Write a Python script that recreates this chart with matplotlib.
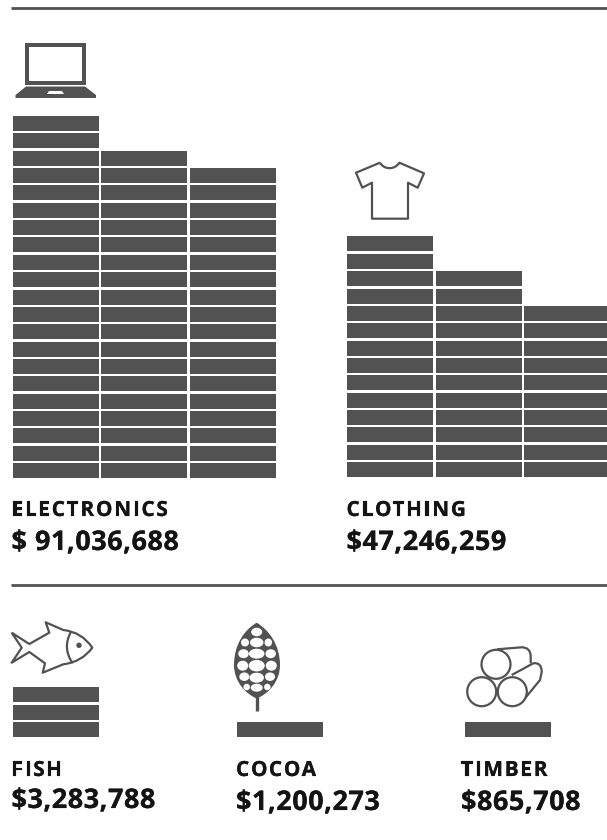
import matplotlib
matplotlib.use('Agg')
import matplotlib.pyplot as plt
import matplotlib.patheffects as pe
from matplotlib.font_manager import FontProperties
from matplotlib.patches import Rectangle, Circle, Ellipse, PathPatch, Polygon
from matplotlib.path import Path
from matplotlib.textpath import TextToPath

categories = ['ELECTRONICS', 'CLOTHING', 'FISH', 'COCOA', 'TIMBER']
values = ['$ 91,036,688', '$47,246,259', '$3,283,788', '$1,200,273', '$865,708']
# stacked rows per column, one list per category
stacks = [[21, 19, 18], [14, 12, 10], [3], [1], [1]]

DARK = '#525252'
TEXT = '#141414'

fig = plt.figure(figsize=(6.07, 8.40), dpi=100)
ax = fig.add_axes([0, 0, 1, 1])
ax.set_xlim(0, 607)
ax.set_ylim(840, 0)
ax.axis('off')

# layout in pixels
origins = [12.5, 347, 12.5, 237, 465]
bases = [478, 477, 737, 737, 737]
text_x = [11.5, 346.5, 11.5, 236, 461]
label_y = [516, 516, 776, 776, 776]
value_y = [550, 550, 808, 810, 810]
col_w, col_pitch = 86, 88.5
row_h, row_pitch = 15, 17.35

ax.plot([11, 607], [7.5, 7.5], color=DARK, lw=2, solid_capstyle='butt')
ax.plot([11, 607], [585, 585], color=DARK, lw=2, solid_capstyle='butt')

for stack, x0, base in zip(stacks, origins, bases):
    for c, n in enumerate(stack):
        for r in range(n):
            y = base - row_h - r * row_pitch
            ax.add_patch(Rectangle((x0 + c * col_pitch, y), col_w, row_h, fc=DARK, ec='none'))


def spaced_text(x, y, s, size, spacing):
    # matplotlib has no letter spacing, so place each glyph on its own
    prop = FontProperties(family='Open Sans', weight='bold', size=size)
    ttp = TextToPath()
    for i, ch in enumerate(s):
        w = ttp.get_text_width_height_descent(s[:i], prop, False)[0] if i else 0
        # text path widths are at 72 dpi, axes units are pixels at 100 dpi
        t = ax.text(x + w * 100 / 72 + i * spacing, y, ch, fontproperties=prop, color=TEXT, va='baseline', ha='left')
        # reference type is a bit heavier than Open Sans Bold
        t.set_path_effects([pe.withStroke(linewidth=0.12, foreground=TEXT)])


for name, val, x, ly, vy in zip(categories, values, text_x, label_y, value_y):
    spaced_text(x, ly, name, 15, 1.7)
    spaced_text(x, vy, val, 19.5, 0.5)

# laptop
ax.add_patch(Rectangle((25, 43), 61, 42, fc=DARK, ec='none'))
ax.add_patch(Rectangle((29, 47), 53, 34, fc='white', ec='none'))
ax.add_patch(Polygon([(26, 86.5), (85, 86.5), (96, 95), (96, 98), (15.5, 98), (15.5, 95)], fc=DARK, ec='none'))
ax.add_patch(Polygon([(49, 91), (62, 91), (64, 94), (47, 94)], fc='white', ec='none'))

# t-shirt
shirt = Path(
    [(380, 162.7), (384, 170), (395, 170), (399.3, 162.7), (424, 173.3), (417.7, 187.7), (408, 182.7),
     (408, 218.7), (372, 218.7), (372, 182.7), (362.3, 187.7), (356, 172.7), (380, 162.7)],
    [Path.MOVETO, Path.CURVE4, Path.CURVE4, Path.CURVE4] + [Path.LINETO] * 9)
ax.add_patch(PathPatch(shirt, fc='none', ec=DARK, lw=1.6, joinstyle='round'))

# fish
L, C = Path.LINETO, Path.CURVE3
fish = Path(
    [(11.7, 632.7), (29.3, 644), (49.3, 632.7), (45.7, 622.3), (63.3, 630), (82, 632), (92.3, 647.7),
     (82, 662), (63.3, 664.3), (42.7, 672.7), (45, 663.3), (29.3, 652), (11.7, 662.7), (21.7, 647.7), (11.7, 632.7)],
    [Path.MOVETO, L, L, L, L, C, C, C, C, L, L, L, L, L, L])
ax.add_patch(PathPatch(fish, fc='none', ec=DARK, lw=1.6, joinstyle='round'))
gill = Path([(71, 631.7), (62, 648), (72.7, 663.3)], [Path.MOVETO, C, C])
ax.add_patch(PathPatch(gill, fc='none', ec=DARK, lw=1.6))
ax.add_patch(Circle((79, 645.3), 2.7, fc=DARK, ec='none'))

# cocoa pod
pod = Path(
    [(256.7, 622.7), (244, 630), (234, 645), (234, 665),
     (234, 682), (246, 694), (256.7, 698.5),
     (268, 694), (280, 682), (280, 665),
     (280, 645), (269, 630), (256.7, 622.7)],
    [Path.MOVETO] + [Path.CURVE4] * 12)
ax.add_patch(PathPatch(pod, fc=DARK, ec='none'))
ax.plot([257, 257], [695, 711], color=DARK, lw=2.4, solid_capstyle='butt')
holes = [(256.7, 632, 11, 8.5), (245, 642.5, 8, 8), (256.7, 642.5, 13.5, 9.5), (268.3, 642.5, 7.5, 8),
         (243.5, 653.7, 10.5, 9), (256.7, 653.7, 15.5, 10), (270.7, 653.7, 10.5, 9),
         (242.7, 665.7, 11, 10), (256.7, 665.7, 16, 11.5), (271.3, 665.7, 11, 10),
         (244.3, 676.7, 10, 8.5), (256.7, 677.7, 14.5, 10), (270, 676.7, 10, 8.5),
         (246.7, 687, 6.5, 6.5), (256.7, 687.7, 12, 8), (267.3, 687, 6.5, 6.5)]
for cx, cy, w, h in holes:
    ax.add_patch(Ellipse((cx, cy), w, h, fc='white', ec='none'))

# timber
log_a = Path([(497, 649.3), (521.7, 647.3), (530.5, 647.5), (530.7, 656), (530.7, 663.3)],
             [Path.MOVETO, L, C, C, L])
log_b = Path([(511.7, 675), (533.3, 663.3), (541.7, 662), (541.7, 672), (540, 680), (525, 698.3)],
             [Path.MOVETO, L, C, C, L, L])
for p in (log_a, log_b):
    ax.add_patch(PathPatch(p, fc='none', ec=DARK, lw=1.6))
for cx, cy in [(496, 664.3), (481.7, 691.7), (512.3, 691.7)]:
    ax.add_patch(Circle((cx, cy), 14.5, fc='white', ec=DARK, lw=1.6))

fig.savefig('out.png', dpi=100)
